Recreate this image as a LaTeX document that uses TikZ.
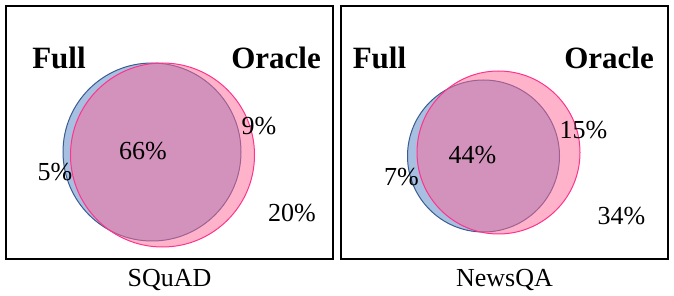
\documentclass[tikz,border=0pt]{standalone}
\usepackage{fontspec}
\setmainfont{Liberation Serif}
\usepackage{xcolor}
\usepackage{tikz}
\usetikzlibrary{positioning}

\definecolor{fullfill}{RGB}{167,191,224}
\definecolor{fullline}{RGB}{59,92,143}
\definecolor{oraclefill}{RGB}{255,103,151}
\definecolor{oracleline}{RGB}{255,51,140}

\begin{document}
\begin{tikzpicture}[
    x=1pt, y=-1pt,
    frame/.style={draw=black, line width=1.3pt, minimum width=327pt,
      minimum height=253pt, inner sep=0pt},
    fullset/.style={circle, draw=fullline, fill=fullfill, line width=1pt, inner sep=0pt},
    oracleset/.style={circle, draw=oracleline, fill=oraclefill, fill opacity=0.5,
      line width=1pt, inner sep=0pt},
    setname/.style={font=\fontsize{31}{31}\selectfont\bfseries, inner sep=0pt},
    share/.style={font=\fontsize{26}{26}\selectfont, inner sep=0pt},
    caption/.style={font=\fontsize{26}{26}\selectfont, inner sep=0pt}
  ]
    \useasboundingbox (0,0) rectangle (674,296);
    % SQuAD panel
    \node[frame] (sqFrame) at (169.5,132.5) {};
    \node[fullset, minimum size=178pt] (sqFull) at (152,152) {};
    \node[oracleset, minimum size=184pt] (sqOracle) at (162.5,155) {};
    \node[setname] (sqFullName) at (59,58) {Full};
    \node[setname] (sqOracleName) at (276,58) {Oracle};
    \node[share] (sqBoth) at (143,151) {66\%};
    \node[share] (sqOnlyOracle) at (259,126) {9\%};
    \node[share] (sqOnlyFull) at (55,172) {5\%};
    \node[share] (sqNone) at (292,213) {20\%};
    \node[caption, below=9pt of sqFrame] (sqCaption) {SQuAD};
    % NewsQA panel
    \node[frame] (nqFrame) at (504.5,132.5) {};
    \node[fullset, minimum size=152pt] (nqFull) at (483.5,156) {};
    \node[oracleset, minimum size=163pt] (nqOracle) at (498.5,152.5) {};
    \node[setname] (nqFullName) at (379.5,58) {Full};
    \node[setname] (nqOracleName) at (609,58) {Oracle};
    \node[share] (nqBoth) at (472.5,155) {44\%};
    \node[share] (nqOnlyOracle) at (583.5,130) {15\%};
    \node[share] (nqOnlyFull) at (401.5,177) {7\%};
    \node[share] (nqNone) at (621.5,216) {34\%};
    \node[caption, below=9pt of nqFrame] (nqCaption) {NewsQA};
  \end{tikzpicture}
\end{document}
